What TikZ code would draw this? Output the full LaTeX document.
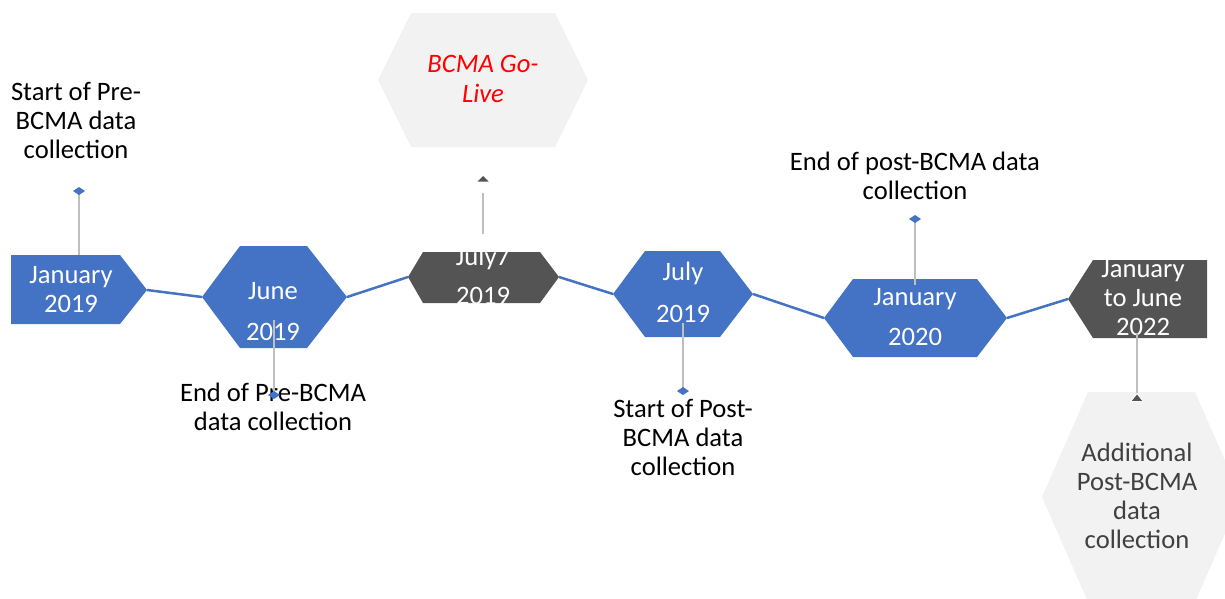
\documentclass[tikz,border=0pt]{standalone}
\usepackage{fontspec}
\setmainfont{Carlito}
\definecolor{blu}{HTML}{4472C4}
\definecolor{drk}{HTML}{545454}
\definecolor{lgr}{HTML}{F2F2F2}
\definecolor{lin}{HTML}{BFBFBF}
\definecolor{txg}{HTML}{404040}
\begin{document}
\begin{tikzpicture}[x=1pt,y=-1pt,
  lbl/.style={font=\fontsize{26.6}{29}\selectfont, anchor=base, inner sep=0pt, align=center},
  wlbl/.style={lbl, text=white},
  conn/.style={blu, line width=2.5pt},
  stem/.style={lin, line width=1.6pt},
  dmd/.style={fill=blu},
  tri/.style={fill=drk}]
\useasboundingbox (0,0) rectangle (1225,598);
\clip (0,0) rectangle (1225,598);
% background shapes
\fill[lgr] (378,80) -- (411,13) -- (555,13) -- (588,80) -- (555,147) -- (411,147) -- cycle;
\fill[lgr] (1042,497) -- (1088,392) -- (1195,392) -- (1241,497) -- (1195,602) -- (1088,602) -- cycle;
% named tips
\coordinate (j19r) at (147,290);
\coordinate (junl) at (202,297);
\coordinate (junr) at (347,297);
\coordinate (j7l) at (408,277);
\coordinate (j7r) at (559,277);
\coordinate (jull) at (613,294);
\coordinate (julr) at (753,294);
\coordinate (j20l) at (824,318);
\coordinate (j20r) at (1007,318);
\coordinate (j22l) at (1068,299);
% connectors
\draw[conn] (j19r) -- (junl);
\draw[conn] (junr) -- (j7l);
\draw[conn] (j7r) -- (jull);
\draw[conn] (julr) -- (j20l);
\draw[conn] (j20r) -- (j22l);
% stem for first milestone (under shape)
\coordinate (m1) at (79,191);
\coordinate (s1) at (79,255);
\draw[stem] (m1) -- (s1);
% main shapes
\fill[blu] (11,255) -- (120,255) -- (j19r) -- (120,324) -- (11,324) -- cycle;
\fill[blu] (junl) -- (240,246) -- (307,246) -- (junr) -- (307,348) -- (240,348) -- cycle;
\fill[drk] (j7l) -- (423,252) -- (540,252) -- (j7r) -- (540,303) -- (423,303) -- cycle;
\fill[blu] (jull) -- (645,251) -- (720,251) -- (julr) -- (720,337) -- (645,337) -- cycle;
\fill[blu] (j20l) -- (853,279) -- (977,279) -- (j20r) -- (977,357) -- (853,357) -- cycle;
\fill[drk] (j22l) -- (1093,260) -- (1207,260) -- (1207,338) -- (1093,338) -- cycle;
% shape texts (anchor=base is the baseline of the last line)
\node[wlbl] (t1) at (71,312) {January\\2019};
\node[wlbl] (t2) at (273,340) {June\\[12pt]2019};
\begin{scope}
\clip (408,252) rectangle (559,303);
\node[wlbl] (t3) at (483,304) {July7\\[10pt]2019};
\end{scope}
\node[wlbl] (t4) at (683,322) {July\\[13pt]2019};
\node[wlbl] (t5) at (915,345) {January\\[11pt]2020};
\node[wlbl] (t6) at (1143,335) {January\\to June\\2022};
\node[lbl, text=red, font=\fontsize{26.6}{30}\selectfont\itshape] (t7) at (483,102) {BCMA Go-\\Live};
\node[lbl, text=txg] (t8) at (1137,548) {Additional\\Post-BCMA\\data\\collection};
% outer labels
\node[lbl] (l1) at (76,158) {Start of Pre-\\BCMA data\\collection};
\node[lbl] (l2) at (273,430) {End of Pre-BCMA\\data collection};
\node[lbl] (l3) at (683,475) {Start of Post-\\BCMA data\\collection};
\node[lbl] (l4) at (915,199) {End of post-BCMA data\\collection};
% stems on top
\coordinate (m2) at (274,395); \coordinate (s2) at (274,320);
\coordinate (m3) at (483,179); \coordinate (s3a) at (483,193); \coordinate (s3b) at (483,234);
\coordinate (m4) at (683,391); \coordinate (s4) at (683,323);
\coordinate (m5) at (915,219); \coordinate (s5) at (915,285);
\coordinate (m6) at (1137,398); \coordinate (s6) at (1137,333);
\draw[stem] (s2) -- (m2);
\draw[stem] (s3a) -- (s3b);
\draw[stem] (s4) -- (m4);
\draw[stem] (m5) -- (s5);
\draw[stem] (s6) -- (m6);
% markers
\foreach \m in {m1,m2,m4,m5}
  \fill[dmd] (\m) +(-6,0) -- +(0,-4) -- +(6,0) -- +(0,4) -- cycle;
\fill[tri] (m3) +(-5.5,2.5) -- +(0,-3) -- +(5.5,2.5) -- cycle;
\fill[tri, draw=white, line width=1pt] (m6) +(-6.5,3.5) -- +(0,-4.5) -- +(6.5,3.5) -- cycle;
\end{tikzpicture}
\end{document}
